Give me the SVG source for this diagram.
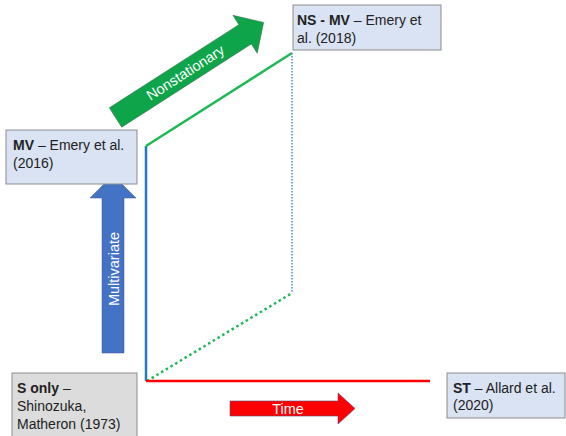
<svg xmlns="http://www.w3.org/2000/svg" width="566" height="436" viewBox="0 0 566 436">
<style>
.box{fill:#dae3f3;stroke:#8c8c8c;stroke-width:1}
.gbox{fill:#dcdcdc;stroke:#8c8c8c;stroke-width:1}
.t{font-family:"Liberation Sans",Arial,sans-serif;font-size:14px;fill:#222}
.b{font-weight:bold}
.at{font-family:"Liberation Sans",Arial,sans-serif;font-size:14.5px;fill:#fff}
</style>
<rect width="566" height="436" fill="#fff"/>
<g id="connectors" fill="none">
<line x1="146" y1="146" x2="146" y2="381" stroke="#1f7ac8" stroke-width="2.5"/>
<line x1="146" y1="146" x2="292" y2="53" stroke="#1db954" stroke-width="2.5"/>
<line x1="292" y1="53" x2="292" y2="293" stroke="#4a90d9" stroke-width="1.5" stroke-dasharray="1.5,1.5"/>
<line x1="147" y1="381" x2="292" y2="293" stroke="#1db954" stroke-width="2.5" stroke-dasharray="2.5,3"/>
<line x1="146" y1="381" x2="430" y2="381" stroke="#ff0000" stroke-width="2.5"/>
</g>
<g id="arrow-nonstationary" transform="translate(115.5,117.5) rotate(-32.7)">
<polygon points="0,-11.5 154,-11.5 154,-22.5 176,0 154,22.5 154,11.5 0,11.5" fill="#0ea44a" stroke="#3a6b4a" stroke-width="0.5"/>
<text class="at" x="83" y="5" text-anchor="middle">Nonstationary</text>
</g>
<g id="arrow-multivariate">
<polygon points="102,353 102,198 90,198 113,175 136,198 124,198 124,353" fill="#4472c4" stroke="#3a5a9a" stroke-width="0.5"/>
<text class="at" transform="translate(118.5,269) rotate(-90)" text-anchor="middle">Multivariate</text>
</g>
<g id="arrow-time">
<polygon points="230,401 338,401 338,393 355,408.5 338,424 338,416 230,416" fill="#ff0000" stroke="#5a4a7a" stroke-width="0.6"/>
<text class="at" x="288" y="413.5" text-anchor="middle">Time</text>
</g>
<g id="node-mv">
<rect class="box" x="6" y="130" width="131" height="54"/>
<text class="t" x="13" y="150"><tspan class="b">MV</tspan> – Emery et al.</text>
<text class="t" x="13" y="168">(2016)</text>
</g>
<g id="node-nsmv">
<rect class="box" x="293" y="5" width="148" height="45"/>
<text class="t" x="297" y="25"><tspan class="b">NS - MV</tspan> – Emery et</text>
<text class="t" x="297" y="43">al. (2018)</text>
</g>
<g id="node-sonly">
<rect class="gbox" x="12" y="373" width="125" height="70"/>
<text class="t" x="17" y="393"><tspan class="b">S only</tspan> –</text>
<text class="t" x="17" y="411">Shinozuka,</text>
<text class="t" x="17" y="429">Matheron (1973)</text>
</g>
<g id="node-st">
<rect class="box" x="447" y="373" width="118" height="45"/>
<text class="t" x="453" y="393"><tspan class="b">ST</tspan> – Allard et al.</text>
<text class="t" x="453" y="410">(2020)</text>
</g>
</svg>
